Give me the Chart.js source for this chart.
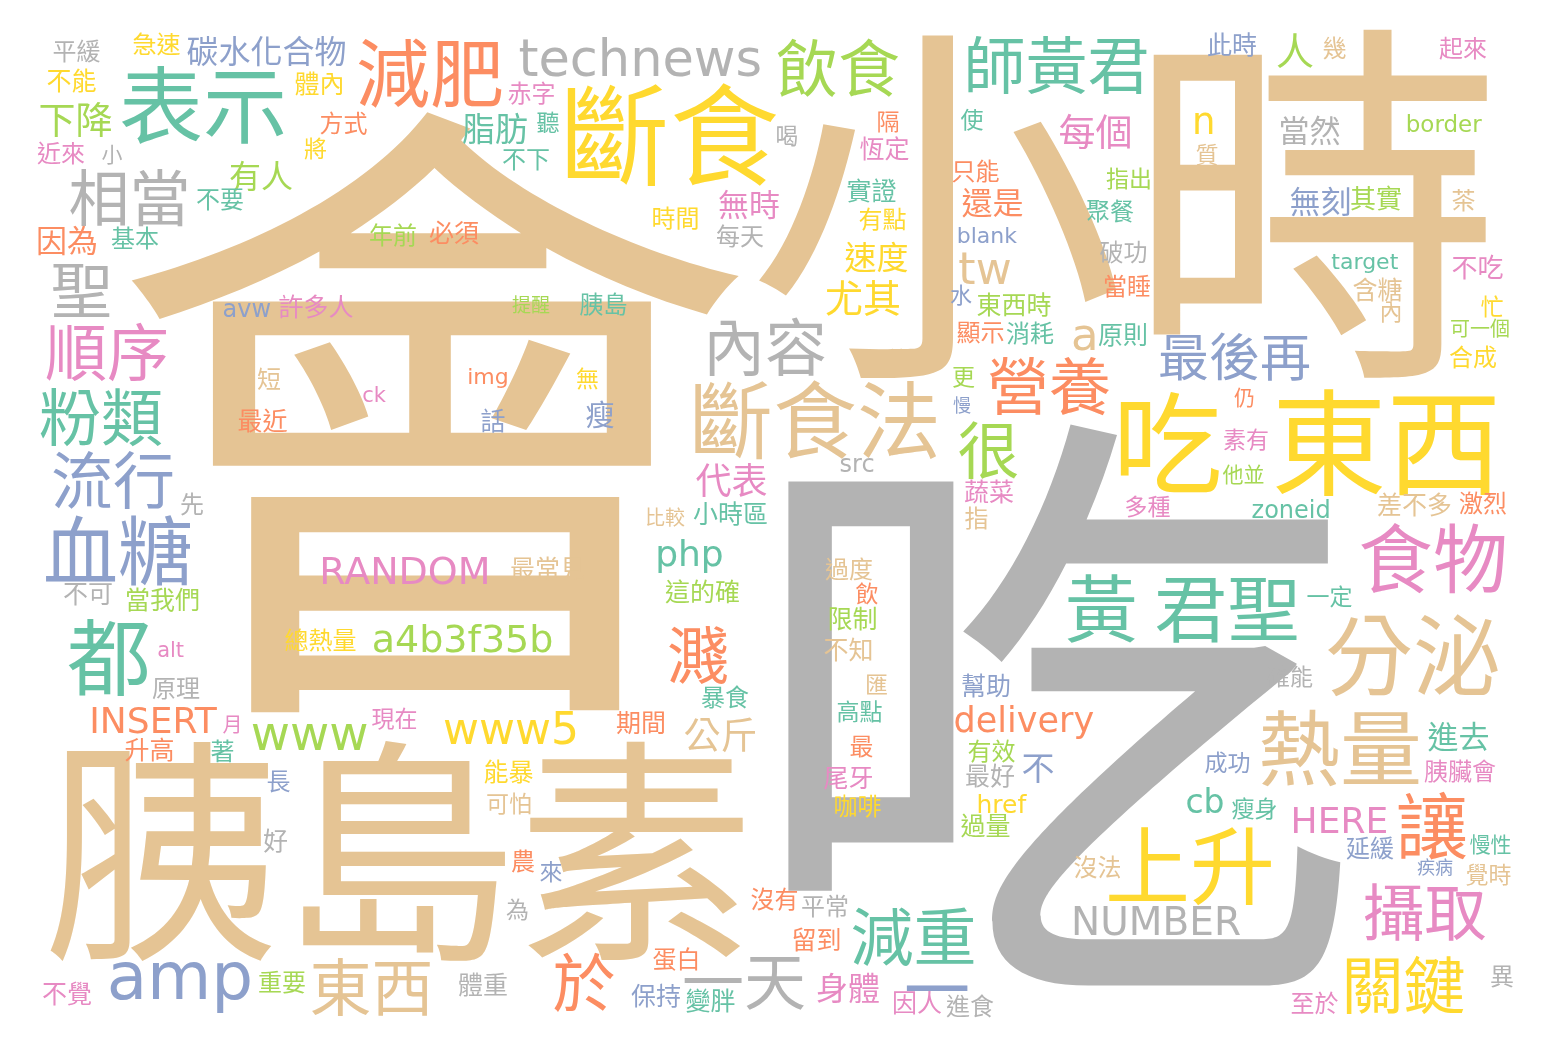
<!DOCTYPE html>
<html>
<head>
<meta charset="utf-8">
<script src="https://cdn.jsdelivr.net/npm/chart.js@4.4.0/dist/chart.umd.min.js"></script>
<style>
  html, body { margin: 0; padding: 0; background: #ffffff; }
  #cloud { display: block; }
</style>
</head>
<body>
<canvas id="cloud" width="1548" height="1052" style="width:1548px;height:1052px"></canvas>
<script>
// word cloud terms, in drawing order
const words = [
  "會", "小時", "吃", "胰島素", "東西", "吃", "斷食", "表示", "斷食法", "分泌",
  "上升", "熱量", "都", "減肥", "食物", "血糖", "黃 君聖", "讓", "飲食", "師黃君",
  "相當", "聖", "順序", "粉類", "流行", "內容", "營養", "很", "濺", "攝取",
  "關鍵", "減重", "一天", "於", "東西", "amp", "technews", "最後再", "www", "www5",
  "tw", "a", "NUMBER", "RANDOM", "a4b3f35b", "INSERT", "HERE", "delivery", "php", "n",
  "cb", "代表", "公斤", "每個", "尤其", "下降", "人", "碳水化合物", "進去", "當然",
  "無刻", "速度", "無時", "脂肪", "有人", "因為", "還是", "身體", "不", "一",
  "瘦", "其實", "border", "target", "blank", "src", "zoneid", "alt", "ck", "img",
  "avw", "href", "平緩", "急速", "不能", "體內", "方式", "將", "近來", "小",
  "不要", "基本", "許多人", "赤字", "聽", "不下", "年前", "必須", "提醒", "胰島",
  "時間", "每天", "喝", "隔", "恆定", "實證", "有點", "使", "只能", "指出",
  "聚餐", "破功", "當睡", "水", "東西時", "顯示", "消耗", "原則", "此時", "幾",
  "起來", "質", "茶", "不吃", "含糖", "內", "忙", "可一個", "合成", "仍",
  "素有", "他並", "多種", "差不多", "激烈", "一定", "確能", "成功", "胰臟會", "瘦身",
  "慢性", "延緩", "疾病", "覺時", "沒法", "至於", "異", "高點", "最", "尾牙",
  "咖啡", "有效", "最好", "過量", "沒有", "平常", "留到", "因人", "進食", "暴食",
  "現在", "期間", "能暴", "可怕", "農", "來", "為", "蛋白", "保持", "變胖",
  "體重", "月", "升高", "著", "長", "好", "不覺", "重要", "原理", "短",
  "最近", "先", "不可", "當我們", "總熱量", "無", "話", "比較", "小時區", "最常見",
  "這的確", "更", "慢", "蔬菜", "指", "過度", "飲", "限制", "不知", "匯",
  "幫助"
];

// layout position of each word (centre), in the cloud's own 1548 x 1052 space
const xs = [
  437, 1125, 1061, 397, 1385, 1170, 672, 203, 816, 1413,
  1190, 1340, 108, 430, 1433, 118, 1182, 1432, 838, 1057,
  128, 81, 106, 101, 113, 767, 1049, 988, 698, 1425,
  1405, 913, 744, 584, 371, 180, 640, 1235, 310, 510,
  985, 1084, 1157, 405, 463, 155, 1340, 1024, 690, 1204,
  1205, 731, 720, 1095, 863, 76, 1295, 266, 1458, 1310,
  1320, 876, 749, 495, 261, 67, 992, 848, 1038, 937,
  600, 1376, 1445, 1365, 988, 857, 1291, 171, 375, 488,
  247, 1003, 77, 157, 72, 319, 344, 315, 61, 112,
  220, 135, 316, 531, 548, 526, 393, 454, 531, 603,
  675, 740, 787, 888, 884, 872, 883, 972, 976, 1128,
  1110, 1123, 1127, 961, 1014, 980, 1030, 1122, 1232, 1335,
  1463, 1207, 1464, 1478, 1377, 1391, 1492, 1480, 1473, 1244,
  1246, 1243, 1148, 1414, 1483, 1330, 1290, 1227, 1460, 1254,
  1490, 1370, 1435, 1488, 1097, 1315, 1502, 860, 862, 848,
  858, 992, 990, 985, 774, 825, 816, 918, 970, 725,
  394, 640, 509, 509, 523, 551, 517, 675, 656, 710,
  483, 231, 149, 222, 279, 275, 67, 282, 176, 269,
  263, 192, 88, 163, 320, 587, 493, 666, 730, 548,
  702, 964, 962, 989, 976, 849, 867, 853, 848, 877,
  986
];
const ys = [
  412, 206, 708, 851, 442, 442, 135, 105, 420, 655,
  866, 748, 657, 73, 558, 550, 608, 825, 67, 65,
  198, 290, 352, 417, 480, 347, 386, 450, 655, 912,
  985, 937, 983, 982, 987, 987, 57, 356, 737, 728,
  268, 338, 921, 570, 638, 720, 820, 722, 556, 123,
  800, 480, 735, 131, 298, 119, 50, 51, 736, 130,
  201, 257, 204, 128, 176, 240, 202, 988, 769, 988,
  414, 198, 123, 263, 235, 465, 508, 649, 394, 378,
  310, 803, 51, 44, 80, 83, 123, 148, 153, 154,
  199, 238, 306, 93, 122, 160, 235, 232, 304, 304,
  218, 236, 136, 122, 148, 190, 219, 119, 171, 178,
  211, 252, 286, 295, 304, 332, 333, 334, 44, 48,
  48, 154, 200, 267, 289, 312, 306, 328, 357, 397,
  439, 474, 506, 504, 503, 596, 676, 762, 771, 808,
  844, 848, 867, 874, 867, 1003, 976, 711, 746, 778,
  806, 751, 775, 825, 899, 906, 939, 1003, 1006, 697,
  718, 723, 771, 803, 861, 872, 909, 959, 995, 1000,
  984, 724, 749, 751, 781, 840, 993, 982, 688, 379,
  420, 504, 594, 599, 640, 378, 420, 517, 513, 568,
  591, 377, 405, 491, 518, 569, 593, 618, 649, 684,
  685
];

// relative weight of each word, used directly as its font size
const fontSizes = [
  650, 378, 620, 237, 115, 110, 110, 84, 84, 88,
  85, 82, 84, 74, 75, 75, 73, 72, 62, 62,
  61, 62, 62, 62, 62, 62, 62, 62, 62, 62,
  62, 63, 62, 63, 62, 66, 51, 51, 48, 44,
  44, 45, 39, 38, 38, 36, 36, 35, 36, 37,
  33, 36, 37, 37, 38, 37, 38, 32, 31, 31,
  31, 32, 31, 33, 32, 31, 31, 32, 33, 66,
  29, 26, 23, 22, 22, 24, 24, 21, 21, 22,
  24, 25, 24, 24, 25, 25, 24, 23, 24, 21,
  24, 24, 25, 24, 23, 24, 24, 25, 19, 24,
  24, 24, 23, 23, 25, 25, 24, 23, 24, 23,
  24, 24, 24, 22, 25, 24, 24, 25, 25, 24,
  24, 23, 24, 26, 25, 23, 23, 20, 24, 21,
  23, 21, 23, 25, 24, 23, 23, 23, 24, 23,
  21, 24, 18, 23, 24, 24, 24, 23, 24, 25,
  24, 24, 25, 25, 24, 24, 25, 25, 24, 24,
  23, 25, 25, 23, 24, 23, 23, 24, 25, 25,
  25, 20, 25, 24, 24, 25, 25, 24, 24, 24,
  25, 24, 25, 25, 24, 23, 25, 20, 25, 25,
  25, 23, 18, 25, 24, 24, 23, 25, 25, 23,
  25
];

// colour group picked for each word
const colorKeys = [
  "tan", "tan", "gray", "tan", "yellow", "yellow", "yellow", "teal", "tan", "tan",
  "yellow", "tan", "teal", "orange", "pink", "blue", "teal", "orange", "green", "teal",
  "gray", "gray", "pink", "teal", "blue", "gray", "orange", "green", "orange", "pink",
  "yellow", "teal", "gray", "orange", "tan", "blue", "gray", "blue", "green", "yellow",
  "tan", "tan", "gray", "pink", "green", "orange", "pink", "orange", "teal", "yellow",
  "teal", "pink", "tan", "pink", "yellow", "green", "green", "blue", "teal", "gray",
  "blue", "yellow", "pink", "teal", "green", "orange", "orange", "pink", "blue", "blue",
  "blue", "green", "green", "teal", "blue", "gray", "teal", "pink", "pink", "orange",
  "blue", "yellow", "gray", "yellow", "yellow", "yellow", "orange", "yellow", "pink", "gray",
  "teal", "teal", "pink", "pink", "teal", "teal", "green", "orange", "green", "teal",
  "yellow", "gray", "gray", "orange", "pink", "teal", "yellow", "teal", "orange", "green",
  "teal", "gray", "orange", "blue", "green", "orange", "teal", "teal", "blue", "tan",
  "pink", "tan", "tan", "pink", "tan", "tan", "yellow", "green", "yellow", "orange",
  "pink", "green", "pink", "tan", "orange", "teal", "gray", "blue", "pink", "teal",
  "teal", "blue", "blue", "tan", "tan", "pink", "gray", "teal", "orange", "pink",
  "yellow", "green", "gray", "green", "orange", "gray", "orange", "pink", "gray", "teal",
  "pink", "orange", "yellow", "tan", "orange", "blue", "gray", "orange", "blue", "teal",
  "gray", "pink", "orange", "teal", "blue", "gray", "pink", "green", "gray", "tan",
  "orange", "gray", "gray", "green", "yellow", "yellow", "blue", "tan", "teal", "tan",
  "green", "green", "blue", "pink", "tan", "tan", "orange", "green", "tan", "tan",
  "blue"
];

const palette = {
  teal: "#66c2a5", orange: "#fc8d62", blue: "#8da0cb", pink: "#e78ac3",
  green: "#a6d854", yellow: "#ffd92f", tan: "#e5c494", gray: "#b3b3b3"
};

const CJK_FONT = '"Noto Sans CJK TC", "Noto Sans CJK JP", sans-serif';
const LATIN_FONT = '"DejaVu Sans", sans-serif';

// draws each word centred on its point, using the pixel position the scales give
const wordTextPlugin = {
    id: "wordText",
    afterDatasetsDraw(chart) {
        const ctx = chart.ctx;
        const meta = chart.getDatasetMeta(0);
        meta.data.forEach((pt, i) => {
            const text = words[i];
            const family = /[\u3400-\u9fff]/.test(text) ? CJK_FONT : LATIN_FONT;
            ctx.save();
            ctx.font = fontSizes[i] + "px " + family;
            ctx.fillStyle = palette[colorKeys[i]];
            ctx.textAlign = "left";
            ctx.textBaseline = "alphabetic";
            const m = ctx.measureText(text);
            const x0 = pt.x - (m.actualBoundingBoxRight - m.actualBoundingBoxLeft) / 2;
            const y0 = pt.y - (m.actualBoundingBoxDescent - m.actualBoundingBoxAscent) / 2;
            ctx.fillText(text, x0, y0);
            ctx.restore();
        });
    }
};

const canvas = document.getElementById("cloud");

new Chart(canvas, {
    type: "scatter",
    data: {
        datasets: [{
            data: xs.map((x, i) => ({ x: x, y: ys[i] })),
            pointRadius: 0,
            pointHoverRadius: 0,
            borderWidth: 0
        }]
    },
    options: {
        responsive: false,
        animation: false,
        events: [],
        layout: { padding: 0 },
        plugins: {
            legend: { display: false },
            tooltip: { enabled: false }
        },
        scales: {
            x: { type: "linear", min: 0, max: 1548, display: false },
            y: { type: "linear", min: 0, max: 1052, reverse: true, display: false }
        }
    },
    plugins: [wordTextPlugin]
});
</script>
</body>
</html>
